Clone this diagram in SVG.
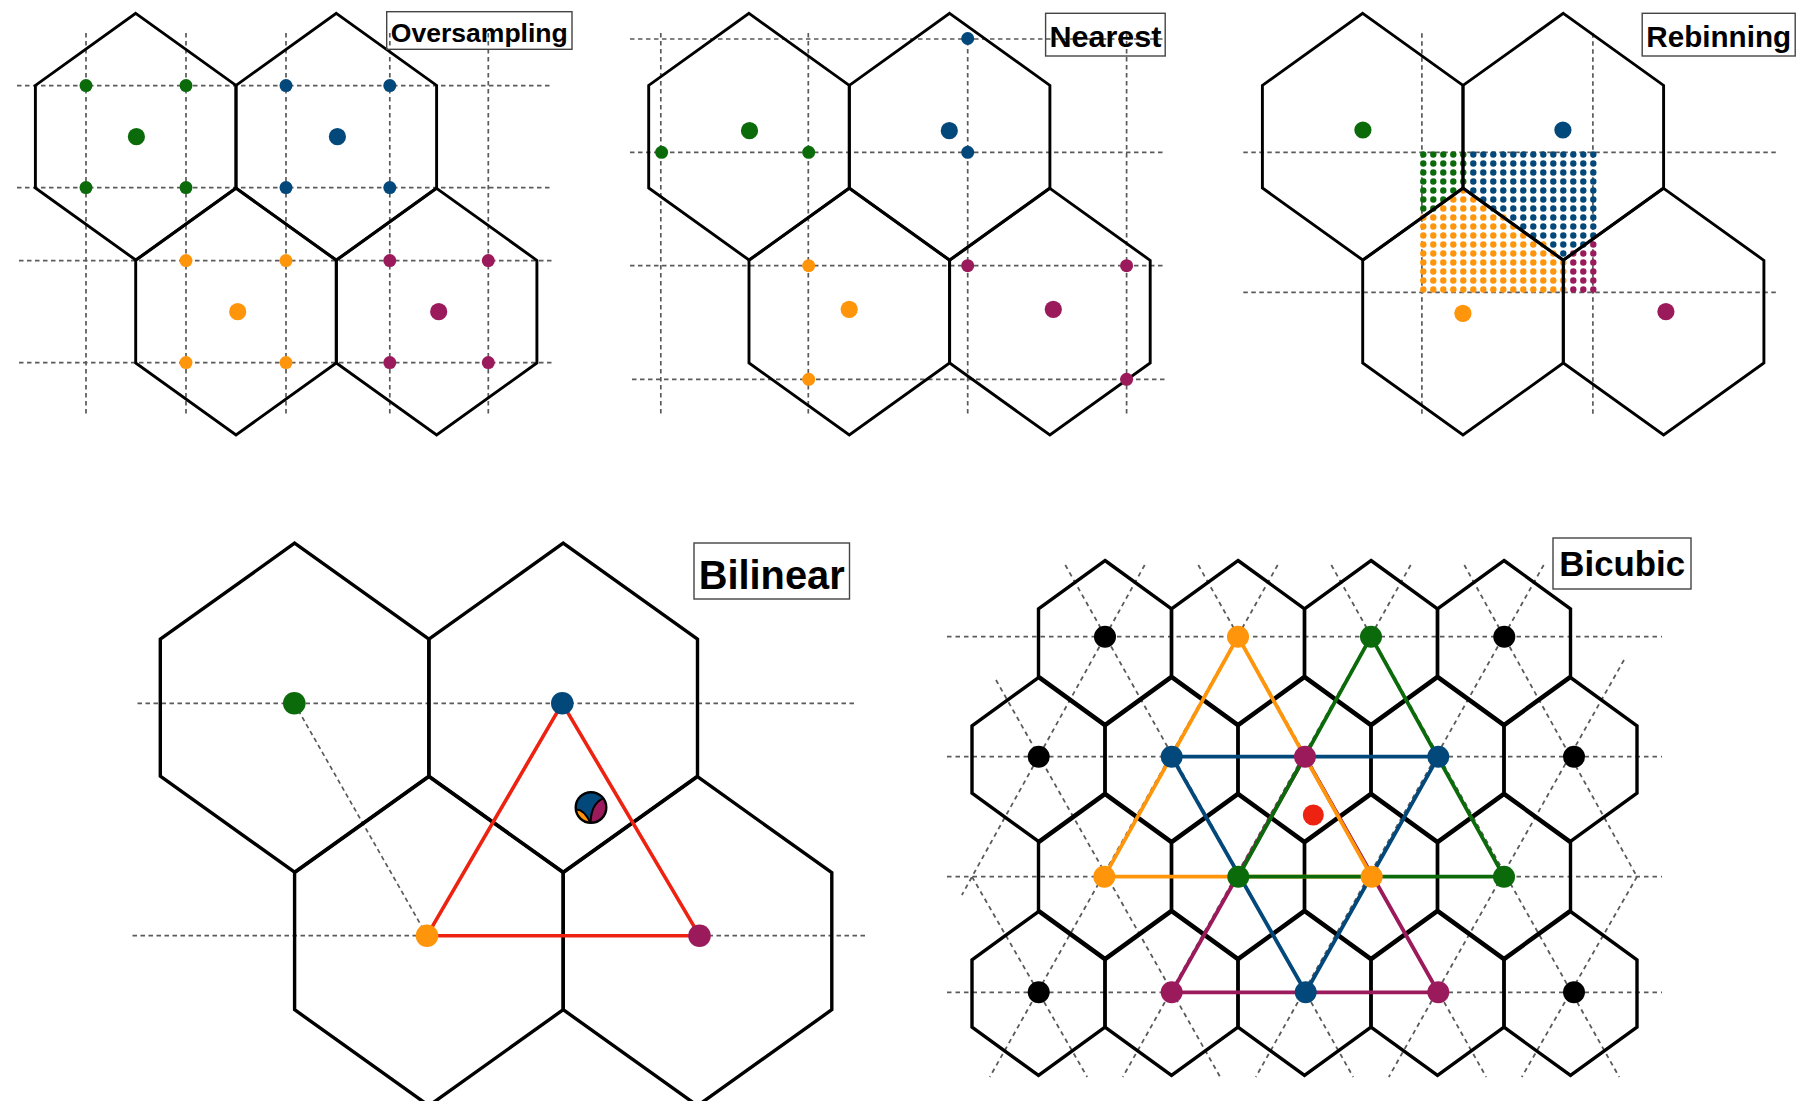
<svg xmlns="http://www.w3.org/2000/svg" xmlns:xlink="http://www.w3.org/1999/xlink" width="1810" height="1101" viewBox="0 0 1810 1101">
<style>
.hex{fill:none;stroke:#000;stroke-width:2.9;stroke-linejoin:miter}
.hexL{fill:none;stroke:#000;stroke-width:3.4}
.grid{fill:none;stroke:#5a5a5a;stroke-width:1.7;stroke-dasharray:4.5 3.5}
.gridB{fill:none;stroke:#5a5a5a;stroke-width:1.8;stroke-dasharray:4.5 4}
.box{fill:none;stroke:#444;stroke-width:1.4}
.lbl{font-family:"Liberation Sans",Arial,Helvetica,sans-serif;font-weight:bold;text-anchor:middle;fill:#000}
.g{fill:#0b6b0b}.b{fill:#03487a}.o{fill:#ff950a}.p{fill:#9a1a5c}.k{fill:#000}.r{fill:#ee2211}
.dg{fill:none;stroke:#0b6b0b}.db{fill:none;stroke:#03487a}.do{fill:none;stroke:#ff950a}.dp{fill:none;stroke:#9a1a5c}
.dots{stroke-width:6.4;stroke-linecap:round;stroke-dasharray:0.01 8.99}
.tri{fill:none;stroke-width:3.8;stroke-linejoin:round}
</style>
<defs>
<path id="hT" d="M0 -123.3 L100.3 -51.3 V51.3 L0 123.3 L-100.3 51.3 V-51.3 Z"/>
<path id="hL" d="M0 -164.5 L134.3 -68.5 V68.5 L0 164.5 L-134.3 68.5 V-68.5 Z"/>
<path id="hS" d="M0 -82 L66.5 -33.7 V33.7 L0 82 L-66.5 33.7 V-33.7 Z"/>
</defs>
<rect width="1810" height="1101" fill="#fff"/>

<!-- Panel 1: Oversampling -->
<g id="oversampling">
<g id="os-grid" class="grid">
<path d="M17 85.6 H552 M17 187.6 H552 M19 260.6 H554 M19 362.6 H554"/>
<path d="M86 33 V417 M186 33 V417 M286 33 V417 M389.8 33 V417 M488.3 33 V417"/>
</g>
<g id="os-hexes" class="hex">
<use href="#hT" x="135.7" y="136.7"/>
<use href="#hT" x="336.3" y="136.7"/>
<use href="#hT" x="236" y="311.7"/>
<use href="#hT" x="436.6" y="311.7"/>
</g>
<g id="os-dots">
<g class="g"><circle cx="86" cy="85.6" r="6.5"/><circle cx="186" cy="85.6" r="6.5"/><circle cx="86" cy="187.6" r="6.5"/><circle cx="186" cy="187.6" r="6.5"/><circle cx="136.4" cy="136.7" r="8.6"/></g>
<g class="b"><circle cx="286" cy="85.6" r="6.5"/><circle cx="389.8" cy="85.6" r="6.5"/><circle cx="286" cy="187.6" r="6.5"/><circle cx="389.8" cy="187.6" r="6.5"/><circle cx="337.4" cy="136.7" r="8.6"/></g>
<g class="o"><circle cx="186" cy="260.6" r="6.5"/><circle cx="286" cy="260.6" r="6.5"/><circle cx="186" cy="362.6" r="6.5"/><circle cx="286" cy="362.6" r="6.5"/><circle cx="237.7" cy="311.7" r="8.6"/></g>
<g class="p"><circle cx="389.8" cy="260.6" r="6.5"/><circle cx="488.3" cy="260.6" r="6.5"/><circle cx="389.8" cy="362.6" r="6.5"/><circle cx="488.3" cy="362.6" r="6.5"/><circle cx="438.7" cy="311.7" r="8.6"/></g>
</g>
<g id="os-label"><rect class="box" x="386.7" y="11.7" width="185.3" height="37.6"/><text class="lbl" x="479.3" y="41.7" font-size="26.5" textLength="177" lengthAdjust="spacingAndGlyphs">Oversampling</text></g>
</g>

<!-- Panel 2: Nearest -->
<g id="nearest">
<g id="nn-grid" class="grid">
<path d="M630 39 H1166 M630 152.3 H1166 M630 265.7 H1166 M632 379.3 H1168"/>
<path d="M660.8 33 V417 M808.3 33 V417 M967.7 33 V417 M1126.6 33 V417"/>
</g>
<g id="nn-hexes" class="hex">
<use href="#hT" x="749" y="136.7"/>
<use href="#hT" x="949.6" y="136.7"/>
<use href="#hT" x="849.3" y="311.7"/>
<use href="#hT" x="1049.9" y="311.7"/>
</g>
<g id="nn-dots">
<g class="g"><circle cx="661.6" cy="152.3" r="6.5"/><circle cx="808.7" cy="152.3" r="6.5"/><circle cx="749.5" cy="130.7" r="8.6"/></g>
<g class="b"><circle cx="967.7" cy="38.5" r="6.5"/><circle cx="967.7" cy="152.3" r="6.5"/><circle cx="949.3" cy="130.7" r="8.6"/></g>
<g class="o"><circle cx="808.7" cy="265.7" r="6.5"/><circle cx="808.7" cy="379.3" r="6.5"/><circle cx="849.2" cy="309.3" r="8.6"/></g>
<g class="p"><circle cx="967.7" cy="265.7" r="6.5"/><circle cx="1126.6" cy="265.7" r="6.5"/><circle cx="1126.6" cy="379.3" r="6.5"/><circle cx="1053.3" cy="309.3" r="8.6"/></g>
</g>
<g id="nn-label"><rect class="box" x="1045.6" y="13.3" width="119.6" height="42.7"/><text class="lbl" x="1105.4" y="46.7" font-size="30" textLength="112" lengthAdjust="spacingAndGlyphs">Nearest</text></g>
</g>

<!-- Panel 3: Rebinning -->
<g id="rebinning">
<g id="rb-grid" class="grid">
<path d="M1243.3 152.3 H1779 M1243.3 292.3 H1779"/>
<path d="M1421.9 33.3 V416.7 M1592.9 33.3 V416.7"/>
</g>
<g id="rb-subpixels" class="dots">
<path class="dg" d="M1423.3 154.5 V209 M1433.3 154.5 V209 M1443.3 154.5 V200 M1453.3 154.5 V191 M1463.3 154.5 V182"/>
<path class="do" d="M1423.3 217.5 V290 M1433.3 217.5 V290 M1443.3 208.5 V290 M1453.3 199.5 V290 M1463.3 190.5 V290 M1473.3 199.5 V290 M1483.3 208.5 V290 M1493.3 217.5 V290 M1503.3 217.5 V290 M1513.3 226.5 V290 M1523.3 235.5 V290 M1533.3 244.5 V290 M1543.3 244.5 V290 M1553.3 253.5 V290 M1563.3 262.5 V290"/>
<path class="db" d="M1473.3 154.5 V191 M1483.3 154.5 V200 M1493.3 154.5 V209 M1503.3 154.5 V209 M1513.3 154.5 V218 M1523.3 154.5 V227 M1533.3 154.5 V236 M1543.3 154.5 V236 M1553.3 154.5 V245 M1563.3 154.5 V254 M1573.3 154.5 V245 M1583.3 154.5 V245 M1593.3 154.5 V236"/>
<path class="dp" d="M1573.3 253.5 V290 M1583.3 253.5 V290 M1593.3 244.5 V290"/>
</g>
<g id="rb-hexes" class="hex">
<use href="#hT" x="1362.7" y="136.7"/>
<use href="#hT" x="1563.3" y="136.7"/>
<use href="#hT" x="1463" y="311.7"/>
<use href="#hT" x="1663.6" y="311.7"/>
</g>
<g id="rb-dots">
<circle class="g" cx="1362.9" cy="130" r="8.6"/>
<circle class="b" cx="1562.9" cy="130" r="8.6"/>
<circle class="o" cx="1462.9" cy="313.3" r="8.6"/>
<circle class="p" cx="1665.9" cy="311.7" r="8.6"/>
</g>
<g id="rb-label"><rect class="box" x="1642.2" y="13.3" width="153" height="42.7"/><text class="lbl" x="1718.7" y="46.7" font-size="29.5" textLength="144.7" lengthAdjust="spacingAndGlyphs">Rebinning</text></g>
</g>

<!-- Panel 4: Bilinear -->
<g id="bilinear">
<g id="bl-grid" class="grid">
<path d="M137.5 703.3 H857.5 M132.5 935.7 H865 M294.3 703.3 L427 935.7"/>
</g>
<g id="bl-hexes" class="hexL">
<use href="#hL" x="294.6" y="707.7"/>
<use href="#hL" x="563.2" y="707.7"/>
<use href="#hL" x="428.9" y="941.2"/>
<use href="#hL" x="697.5" y="941.2"/>
</g>
<g id="bl-connectors">
<path d="M562.3 703.3 L427 935.7 L699.5 935.7 Z" fill="none" stroke="#ee2211" stroke-width="3.6" stroke-linejoin="round"/>
</g>
<g id="bl-dots">
<circle class="g" cx="294.3" cy="703.3" r="11.3"/>
<circle class="b" cx="562.3" cy="703.3" r="11.3"/>
<circle class="o" cx="427" cy="935.7" r="11.3"/>
<circle class="p" cx="699.5" cy="935.7" r="11.3"/>
</g>
<g id="bl-target">
<circle class="b" cx="591" cy="807.5" r="15.3"/>
<path class="o" d="M575.8 809.4 A15.3 15.3 0 0 0 590.5 822.8 Q583.85 808.9 575.8 809.4 Z"/>
<path class="p" d="M590.5 822.8 A15.3 15.3 0 0 0 603.2 798.3 Q591.15 803.45 590.5 822.8 Z"/>
<path d="M590.5 822.8 Q583.85 808.9 575.8 809.4 M590.5 822.8 Q591.15 803.45 603.2 798.3" fill="none" stroke="#000" stroke-width="2"/>
<circle cx="591" cy="807.5" r="15.3" fill="none" stroke="#000" stroke-width="2.4"/>
</g>
<g id="bl-label"><rect class="box" x="694" y="543" width="155.5" height="56"/><text class="lbl" x="771.7" y="589" font-size="41" textLength="146" lengthAdjust="spacingAndGlyphs">Bilinear</text></g>
</g>

<!-- Panel 5: Bicubic -->
<g id="bicubic">
<g id="bc-grid" class="gridB">
<path d="M947 636.7 H1662 M947 756.7 H1662 M947 876.7 H1662 M947 992.3 H1662"/>
<path d="M1464.3 565 L1637 876.7 M1331.3 565 L1619.2 1077 M1198.3 565 L1486.2 1077 M1065.3 565 L1353.2 1077 M996 680 L1220.2 1077 M972 876.7 L1087.2 1077"/>
<path d="M1144.7 565 L961.9 895 M1277.7 565 L989.8 1077 M1410.7 565 L1122.8 1077 M1543.7 565 L1255.8 1077 M1624 660 L1388.8 1077 M1637 876.7 L1521.8 1077"/>
</g>
<g id="bc-hexes" class="hexL">
<use href="#hS" x="1105" y="642.5"/><use href="#hS" x="1238" y="642.5"/><use href="#hS" x="1371" y="642.5"/><use href="#hS" x="1504" y="642.5"/>
<use href="#hS" x="1038.5" y="759.5"/><use href="#hS" x="1171.5" y="759.5"/><use href="#hS" x="1304.5" y="759.5"/><use href="#hS" x="1437.5" y="759.5"/><use href="#hS" x="1570.5" y="759.5"/>
<use href="#hS" x="1105" y="876.5"/><use href="#hS" x="1238" y="876.5"/><use href="#hS" x="1371" y="876.5"/><use href="#hS" x="1504" y="876.5"/>
<use href="#hS" x="1038.5" y="993.5"/><use href="#hS" x="1171.5" y="993.5"/><use href="#hS" x="1304.5" y="993.5"/><use href="#hS" x="1437.5" y="993.5"/><use href="#hS" x="1570.5" y="993.5"/>
</g>
<g id="bc-connectors">
<path class="tri" stroke="#9a1a5c" d="M1305 756.7 L1171.7 992.3 L1438.3 992.3 Z"/>
<path class="tri" stroke="#03487a" d="M1171.7 756.7 L1438.3 756.7 L1305.7 992.3 Z"/>
<path class="tri" stroke="#ff950a" d="M1238 636.7 L1104.3 876.7 L1371.7 876.7 Z"/>
<path class="tri" stroke="#0b6b0b" d="M1371 636.7 L1238.3 876.7 L1504 876.7 Z"/>
</g>
<g id="bc-dots">
<g class="k"><circle cx="1105" cy="636.7" r="11"/><circle cx="1504.3" cy="636.7" r="11"/><circle cx="1038.7" cy="756.7" r="11"/><circle cx="1574" cy="756.7" r="11"/><circle cx="1038.7" cy="992.3" r="11"/><circle cx="1574" cy="992.3" r="11"/></g>
<g class="o"><circle cx="1238" cy="636.7" r="11"/><circle cx="1104.3" cy="876.7" r="11"/><circle cx="1371.7" cy="876.7" r="11"/></g>
<g class="g"><circle cx="1371" cy="636.7" r="11"/><circle cx="1238.3" cy="876.7" r="11"/><circle cx="1504" cy="876.7" r="11"/></g>
<g class="b"><circle cx="1171.7" cy="756.7" r="11"/><circle cx="1438.3" cy="756.7" r="11"/><circle cx="1305.7" cy="992.3" r="11"/></g>
<g class="p"><circle cx="1305" cy="756.7" r="11"/><circle cx="1171.7" cy="992.3" r="11"/><circle cx="1438.3" cy="992.3" r="11"/></g>
<circle class="r" cx="1313.3" cy="815" r="10.5"/>
</g>
<g id="bc-label"><rect class="box" x="1553" y="538" width="138" height="51"/><text class="lbl" x="1622.2" y="576" font-size="34.5" textLength="125.7" lengthAdjust="spacingAndGlyphs">Bicubic</text></g>
</g>
</svg>
